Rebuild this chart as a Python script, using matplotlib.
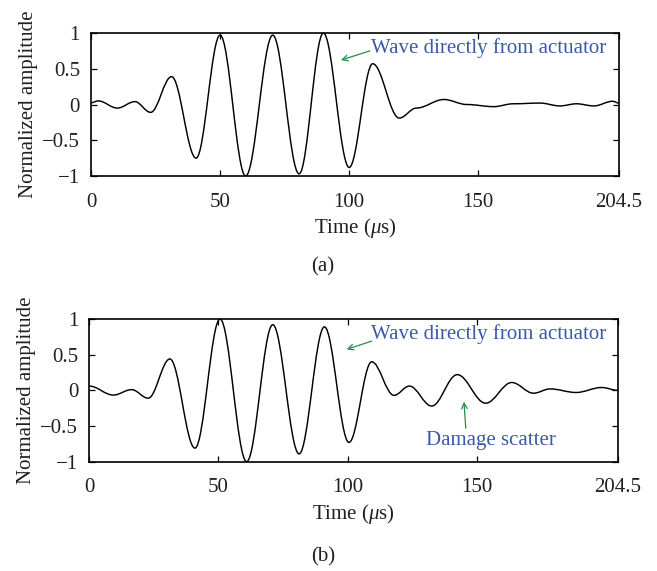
import matplotlib
matplotlib.use("Agg")
import matplotlib.pyplot as plt
from matplotlib.path import Path
from matplotlib.patches import PathPatch

# ---- data (extrema of each waveform) ----
time_a = [0, 2.8, 10.2, 17.0, 23.1, 31.2, 40.7, 50.0, 59.9, 70.4, 80.6, 90.0,
          100.0, 109.1, 119.4, 126.0, 136.7, 145.5, 156.0, 163.5, 174.0, 181.6,
          188.0, 194.8, 202.0, 204.5]
amp_a = [0.025, 0.05, -0.05, 0.04, -0.11, 0.39, -0.75, 0.97, -1.0, 0.97, -0.97, 1.0,
         -0.88, 0.57, -0.19, -0.05, 0.07, 0.0, -0.03, 0.01, 0.02, -0.02,
         0.01, -0.02, 0.045, 0.02]

time_b = [0, 9.3, 16.4, 22.8, 31.2, 40.9, 50.6, 60.9, 71.0, 81.2, 91.0, 100.5,
          109.3, 117.9, 123.9, 132.5, 142.4, 153.4, 163.5, 171.9, 178.3, 188.4,
          198.3, 204.5]
amp_b = [0.06, -0.066, 0.01, -0.11, 0.44, -0.81, 1.0, -1.0, 0.92, -0.89, 0.89, -0.73,
         0.40, -0.07, 0.06, -0.22, 0.22, -0.18, 0.11, -0.04, 0.02, -0.03,
         0.04, 0.0]

xticks = [0, 50, 100, 150, 204.5]
xtick_labels = ["0", "50", "100", "150", "204.5"]
yticks = [-1, -0.5, 0, 0.5, 1]
ytick_labels = ["\u22121", "\u22120.5", "0", "0.5", "1"]

plt.rcParams['font.family'] = ['Liberation Serif', 'DejaVu Serif']
plt.rcParams['mathtext.fontset'] = 'custom'
plt.rcParams['mathtext.rm'] = 'Liberation Serif'
plt.rcParams['mathtext.it'] = 'Liberation Serif:italic'

TXT = '#231f20'
BLUE = '#3a5aa8'
GREEN = '#1f8f4a'
FS = 15

fig = plt.figure(figsize=(6.57, 5.71), dpi=100)
ax_a = fig.add_axes([91 / 657, 1 - 176 / 571, 528 / 657, 143 / 571])
ax_b = fig.add_axes([89.3 / 657, 1 - 461.7 / 571, 528.4 / 657, 142.7 / 571])


def wave_path(ts, ys):
    # smooth curve through the extrema (horizontal tangents) drawn as Bezier path
    verts = [(ts[0], ys[0])]
    codes = [Path.MOVETO]
    k = 0.3634
    for i in range(1, len(ts)):
        t0, t1 = ts[i - 1], ts[i]
        d = (t1 - t0) * k
        verts += [(t0 + d, ys[i - 1]), (t1 - d, ys[i]), (t1, ys[i])]
        codes += [Path.CURVE4] * 3
    return Path(verts, codes)


for ax, ts, ys in [(ax_a, time_a, amp_a), (ax_b, time_b, amp_b)]:
    ax.add_patch(PathPatch(wave_path(ts, ys), facecolor='none', edgecolor='black',
                           lw=1.05, transform=ax.transData))
    ax.set_xlim(0, 204.5)
    ax.set_ylim(-1, 1)
    ax.set_xticks(xticks)
    ax.set_xticklabels(xtick_labels)
    ax.set_yticks(yticks)
    ax.set_yticklabels(ytick_labels)
    ax.tick_params(direction='in', length=4, width=0.9, top=True, right=True,
                   labelsize=FS, labelcolor=TXT)
    ax.tick_params(axis='x', pad=12)
    ax.tick_params(axis='y', pad=8)
    for s in ax.spines.values():
        s.set_linewidth(1.2)
    ax.set_xlabel("Time ($\\mu$s)", fontsize=FS, color=TXT, labelpad=3)
    ax.set_ylabel("Normalized amplitude", fontsize=FS, color=TXT, labelpad=3)

arrow = dict(arrowstyle='->', color=GREEN, lw=0.9, shrinkA=0, shrinkB=0)
ax_a.annotate("", xy=(96.8, 0.62), xytext=(108.0, 0.75), arrowprops=arrow)
ax_a.text(108.5, 0.79, "Wave directly from actuator", color=BLUE, fontsize=FS,
          ha='left', va='center')

ax_b.annotate("", xy=(99.6, 0.575), xytext=(109.3, 0.69), arrowprops=arrow)
ax_b.text(109.0, 0.79, "Wave directly from actuator", color=BLUE, fontsize=FS,
          ha='left', va='center')
ax_b.annotate("", xy=(145.0, -0.16), xytext=(145.7, -0.53), arrowprops=arrow)
ax_b.text(155.5, -0.70, "Damage scatter", color=BLUE, fontsize=FS,
          ha='center', va='center')

fig.text(323 / 657, 1 - 266.7 / 571, "(a)", fontsize=FS, color=TXT, ha='center', va='center')
fig.text(323 / 657, 1 - 556.7 / 571, "(b)", fontsize=FS, color=TXT, ha='center', va='center')

fig.savefig("out.png", dpi=100)
